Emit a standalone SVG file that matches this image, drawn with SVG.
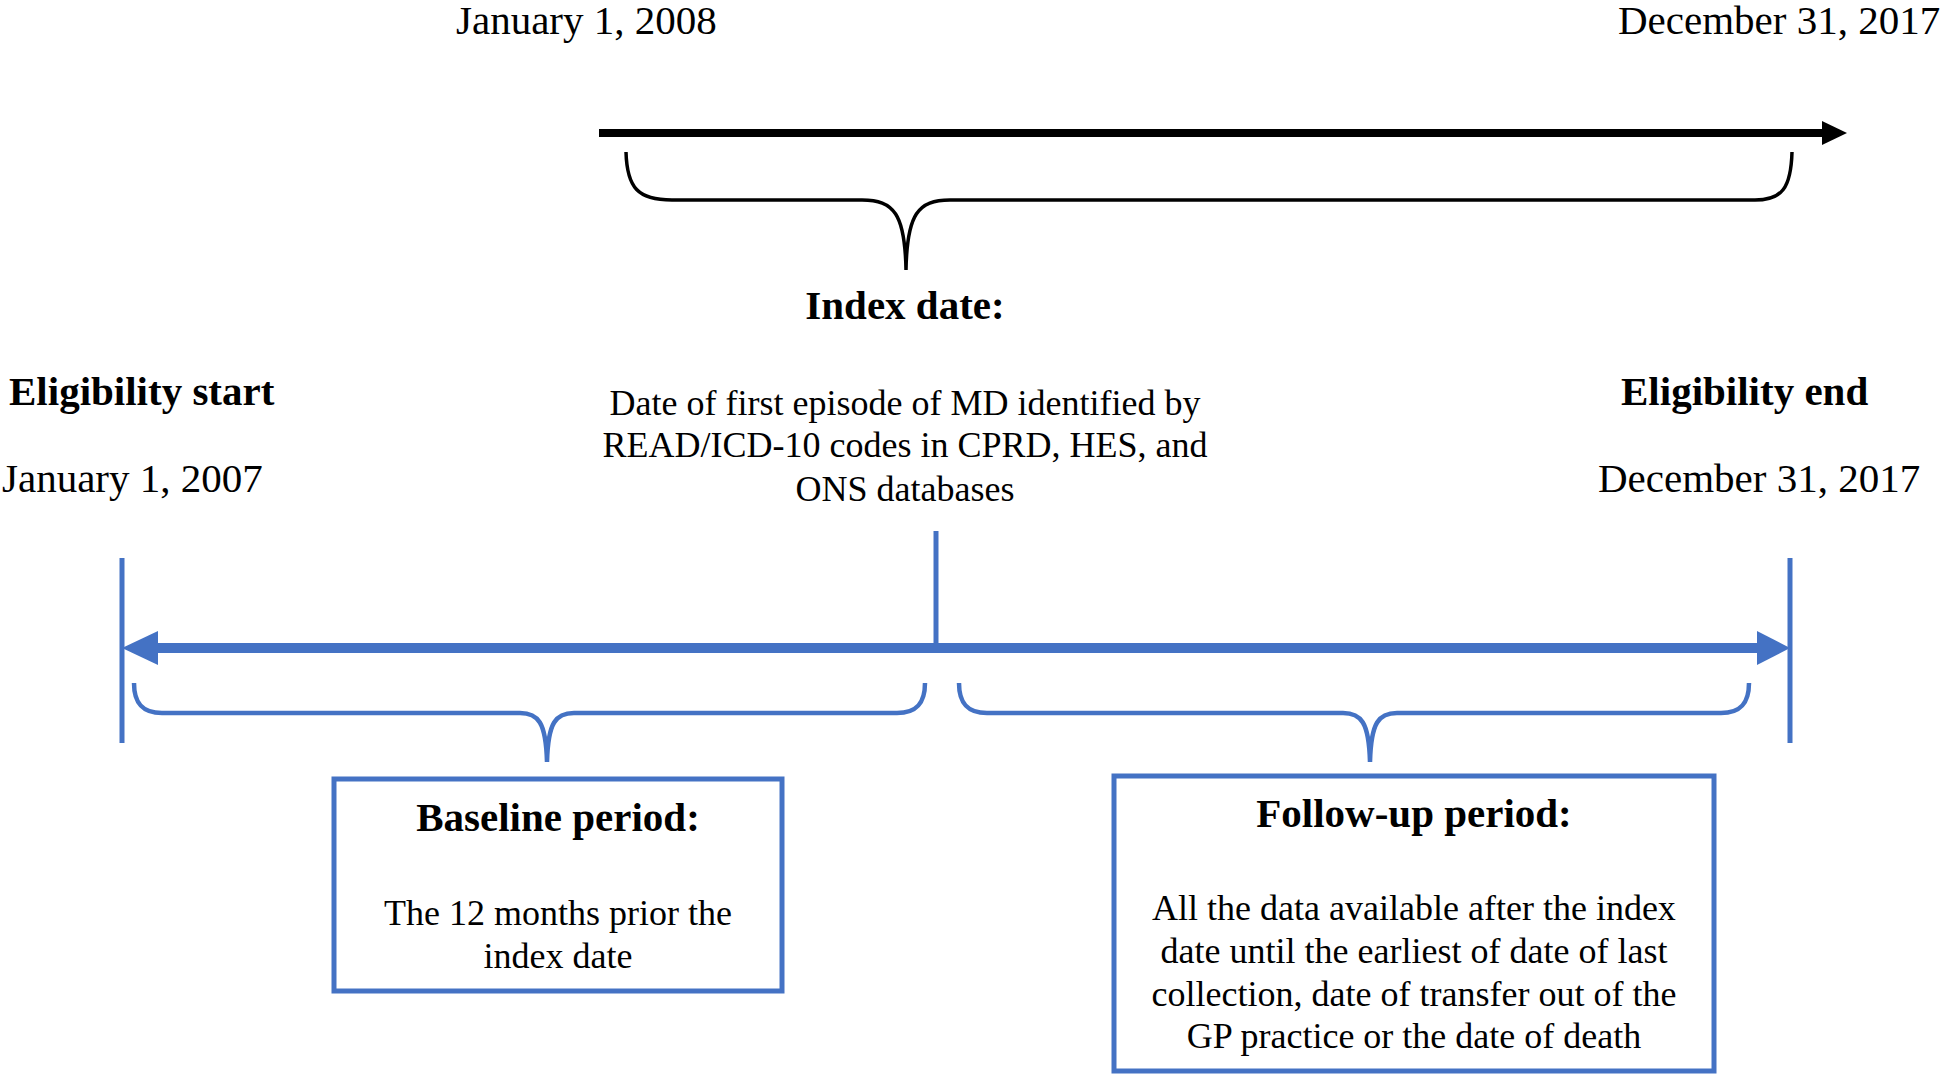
<svg xmlns="http://www.w3.org/2000/svg" width="1944" height="1076" viewBox="0 0 1944 1076">
<style>
text{font-family:"Liberation Serif","Times New Roman",serif;fill:#000}
.d{font-size:41px}
.h{font-size:41px;font-weight:bold}
.t{font-size:36px}
.c{text-anchor:middle}
.blue{stroke:#4472C4;fill:none}
.box{stroke:#4472C4;stroke-width:5;fill:#fff}
</style>
<rect width="1944" height="1076" fill="#fff"/>
<g id="connectors">
  <line x1="599" y1="133" x2="1826" y2="133" stroke="#000" stroke-width="8"/>
  <polygon points="1822,121 1847,133 1822,145" fill="#000"/>
  <path d="M626,152 C627,188 638,200 672,200 L862,200 C894,200 905,214 906,270 C907,214 918,200 950,200 L1755,200 C1782,200 1791,188 1792,152" fill="none" stroke="#000" stroke-width="3.5"/>
  <line class="blue" x1="152" y1="648" x2="1765" y2="648" stroke-width="10"/>
  <polygon points="122,648 158,631 158,665" fill="#4472C4"/>
  <polygon points="1790,648 1757,631 1757,665" fill="#4472C4"/>
  <line class="blue" x1="122" y1="558" x2="122" y2="743" stroke-width="5"/>
  <line class="blue" x1="1790" y1="558" x2="1790" y2="743" stroke-width="5"/>
  <line class="blue" x1="936" y1="531" x2="936" y2="648" stroke-width="5"/>
  <path class="blue" stroke-width="4.5" d="M134,683 C134,703 142,713 162,713 L520,713 C538,713 546,722 547,762 C548,722 556,713 574,713 L897,713 C917,713 925,703 925,683"/>
  <path class="blue" stroke-width="4.5" d="M959,683 C959,703 967,713 987,713 L1343,713 C1361,713 1369,722 1370,762 C1371,722 1379,713 1397,713 L1721,713 C1741,713 1749,703 1749,683"/>
</g>
<g id="top-dates">
  <text class="d" x="456" y="34">January 1, 2008</text>
  <text class="d" x="1618" y="34">December 31, 2017</text>
</g>
<g id="index-date">
  <text class="h c" x="905" y="319">Index date:</text>
  <text class="t c" x="905" y="415">Date of first episode of MD identified by</text>
  <text class="t c" x="905" y="457">READ/ICD-10 codes in CPRD, HES, and</text>
  <text class="t c" x="905" y="501">ONS databases</text>
</g>
<g id="eligibility-start">
  <text class="h" x="9" y="405">Eligibility start</text>
  <text class="d" x="2" y="492">January 1, 2007</text>
</g>
<g id="eligibility-end">
  <text class="h" x="1621" y="405">Eligibility end</text>
  <text class="d" x="1598" y="492">December 31, 2017</text>
</g>
<g id="baseline-period">
  <rect class="box" x="334" y="779" width="448" height="212"/>
  <text class="h c" x="558" y="831">Baseline period:</text>
  <text class="t c" x="558" y="925">The 12 months prior the</text>
  <text class="t c" x="558" y="968">index date</text>
</g>
<g id="follow-up-period">
  <rect class="box" x="1114" y="776" width="600" height="295"/>
  <text class="h c" x="1414" y="827">Follow-up period:</text>
  <text class="t c" x="1414" y="920">All the data available  after the index</text>
  <text class="t c" x="1414" y="963">date until the earliest of date of last</text>
  <text class="t c" x="1414" y="1006">collection, date of transfer out of the</text>
  <text class="t c" x="1414" y="1048">GP practice or the date of death</text>
</g>
</svg>
